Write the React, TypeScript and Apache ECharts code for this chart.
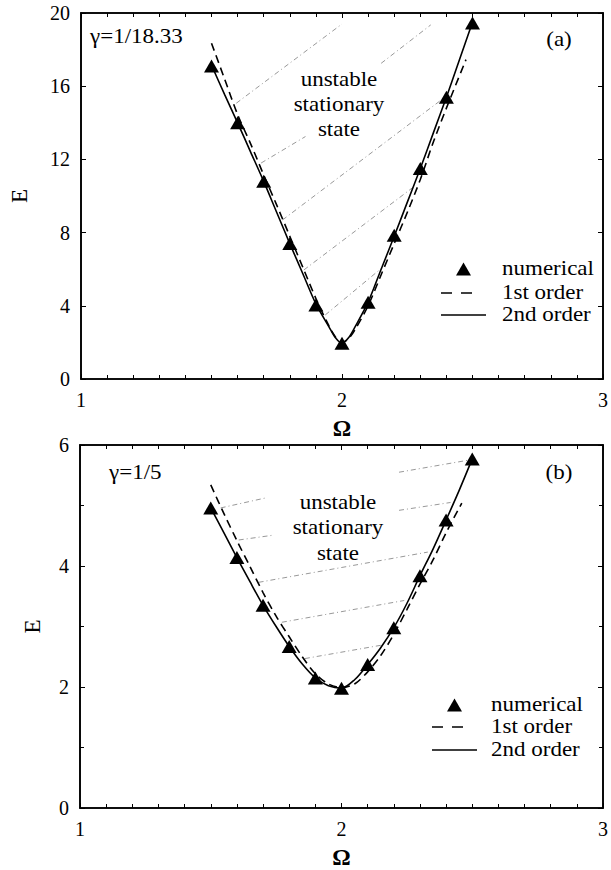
import React, { useEffect, useRef } from "react";
import * as echarts from "echarts";

// ---------- Panel (a): gamma = 1/18.33 ----------
const numOmegaA = [1.5, 1.6, 1.7, 1.8, 1.9, 2.0, 2.1, 2.2, 2.3, 2.4, 2.5];
const numEA = [17.1, 14.0, 10.8, 7.4, 4.05, 1.95, 4.2, 7.85, 11.5, 15.4, 19.45];

const firstOmegaA = [1.5, 1.55, 1.6, 1.65, 1.7, 1.75, 1.8, 1.85, 1.9, 1.95, 1.975, 2.0, 2.025, 2.05, 2.1, 2.15, 2.2, 2.25, 2.3, 2.35, 2.4, 2.475];
const firstEA = [18.35, 16.4, 14.45, 12.85, 11.15, 9.5, 7.8, 6.1, 4.4, 2.9, 2.3, 2.0, 2.2, 2.7, 4.0, 5.7, 7.4, 9.1, 10.9, 12.95, 14.8, 17.45];

const secondOmegaA = [1.5, 1.55, 1.6, 1.65, 1.7, 1.75, 1.8, 1.85, 1.9, 1.95, 1.975, 2.0, 2.025, 2.05, 2.1, 2.15, 2.2, 2.25, 2.3, 2.35, 2.4, 2.45, 2.5];
const secondEA = [17.15, 15.55, 14.0, 12.4, 10.8, 9.1, 7.4, 5.75, 4.1, 2.85, 2.25, 1.95, 2.25, 2.85, 4.2, 6.0, 7.8, 9.65, 11.5, 13.45, 15.4, 17.45, 19.5];

// hatch segments of the unstable region: [Ω0, E0, Ω1, E1]
const hatchA = [
  [1.595, 15.07, 2.0, 19.4],
  [1.69, 11.8, 1.86, 13.25],
  [2.15, 17.25, 2.34, 19.35],
  [1.772, 8.69, 2.385, 15.3],
  [1.854, 5.96, 2.27, 10.45],
  [1.936, 3.5, 2.151, 6.05],
];

// ---------- Panel (b): gamma = 1/5 ----------
const numOmegaB = [1.5, 1.6, 1.7, 1.8, 1.9, 2.0, 2.1, 2.2, 2.3, 2.4, 2.5];
const numEB = [4.96, 4.14, 3.35, 2.67, 2.15, 1.98, 2.37, 2.98, 3.84, 4.76, 5.77];

const firstOmegaB = [1.5, 1.55, 1.6, 1.65, 1.7, 1.75, 1.8, 1.85, 1.9, 1.95, 2.0, 2.05, 2.1, 2.15, 2.2, 2.25, 2.3, 2.35, 2.4, 2.46];
const firstEB = [5.34, 4.87, 4.42, 3.99, 3.56, 3.17, 2.83, 2.5, 2.22, 2.05, 1.99, 2.05, 2.25, 2.52, 2.87, 3.28, 3.7, 4.1, 4.55, 5.04];

const secondOmegaB = [1.5, 1.55, 1.6, 1.65, 1.7, 1.75, 1.8, 1.85, 1.9, 1.95, 2.0, 2.05, 2.1, 2.15, 2.2, 2.25, 2.3, 2.35, 2.4, 2.45, 2.5];
const secondEB = [4.96, 4.55, 4.14, 3.74, 3.35, 3.0, 2.67, 2.38, 2.15, 2.02, 1.98, 2.12, 2.37, 2.65, 2.98, 3.38, 3.84, 4.28, 4.76, 5.25, 5.77];

const hatchB = [
  [1.538, 4.96, 1.715, 5.13],
  [2.22, 5.55, 2.486, 5.75],
  [1.607, 4.43, 1.74, 4.51],
  [2.22, 4.92, 2.417, 5.05],
  [1.683, 3.73, 2.33, 4.23],
  [1.772, 3.07, 2.24, 3.43],
  [1.86, 2.47, 2.151, 2.69],
];

const xTicks = [1, 2, 3];
const yTicksA = [0, 4, 8, 12, 16, 20];
const yTicksB = [0, 2, 4, 6];

const legendLabels = ["numerical", "1st order", "2nd order"];
const gammaLabels = ["γ=1/18.33", "γ=1/5"];
const panelLabels = ["(a)", "(b)"];
const regionLabel = "unstable\nstationary\nstate";

const SERIF = "Liberation Serif, Times New Roman, serif";

const zip = (xs: number[], ys: number[]) => xs.map((x, i) => [x, ys[i]]);

function axesFor(grid: number, yTicks: number[], yMinorSplit: number) {
  const yMax = yTicks[yTicks.length - 1];
  const yInterval = yTicks[1] - yTicks[0];
  const common = {
    gridIndex: grid,
    type: "value" as const,
    splitLine: { show: false },
    axisLine: { show: true, onZero: false, lineStyle: { color: "#000", width: 1.6 } },
    axisTick: { show: true, inside: true, length: 5, lineStyle: { color: "#000", width: 1 } },
  };
  const xBase = {
    ...common,
    min: xTicks[0],
    max: xTicks[xTicks.length - 1],
    interval: 1,
    minorTick: { show: true, splitNumber: 10, length: 4, lineStyle: { color: "#000", width: 1 } },
  };
  const yBase = {
    ...common,
    min: 0,
    max: yMax,
    interval: yInterval,
    minorTick: { show: yMinorSplit > 1, splitNumber: yMinorSplit, length: 4, lineStyle: { color: "#000", width: 1 } },
  };
  const xAxes = [
    {
      ...xBase,
      position: "bottom",
      axisLabel: { show: true, color: "#000", fontFamily: SERIF, fontSize: 20, margin: 11 },
      name: "Ω",
      nameLocation: "middle",
      nameGap: 38,
      nameTextStyle: { color: "#000", fontFamily: SERIF, fontSize: 23, fontWeight: "bold" },
    },
    { ...xBase, position: "top", axisLabel: { show: false } },
  ];
  const yAxes = [
    {
      ...yBase,
      position: "left",
      axisLabel: { show: true, color: "#000", fontFamily: SERIF, fontSize: 20, margin: 11 },
      name: "E",
      nameLocation: "middle",
      nameGap: yMax >= 10 ? 50 : 36,
      nameTextStyle: { color: "#000", fontFamily: SERIF, fontSize: 23 },
    },
    { ...yBase, position: "right", axisLabel: { show: false } },
  ];
  return { xAxes, yAxes };
}

function seriesFor(
  grid: number,
  numO: number[],
  numE: number[],
  firstO: number[],
  firstE: number[],
  secondO: number[],
  secondE: number[],
  hatch: number[][]
) {
  const xi = grid * 2;
  const yi = grid * 2;
  const hatchSeries = hatch.map((h, k) => ({
    type: "line",
    name: `hatch-${grid}-${k}`,
    xAxisIndex: xi,
    yAxisIndex: yi,
    data: [
      [h[0], h[1]],
      [h[2], h[3]],
    ],
    symbol: "none",
    silent: true,
    z: 1,
    lineStyle: { color: "#8c8c8c", width: 0.9, type: [5, 3, 1, 3] },
  }));
  return [
    ...hatchSeries,
    {
      type: "line",
      name: legendLabels[1],
      xAxisIndex: xi,
      yAxisIndex: yi,
      data: zip(firstO, firstE),
      symbol: "none",
      smooth: 0.3,
      z: 3,
      lineStyle: { color: "#000", width: 1.6, type: [8, 5] },
    },
    {
      type: "line",
      name: legendLabels[2],
      xAxisIndex: xi,
      yAxisIndex: yi,
      data: zip(secondO, secondE),
      symbol: "none",
      smooth: 0.3,
      z: 4,
      lineStyle: { color: "#000", width: 1.6 },
    },
    {
      type: "scatter",
      name: legendLabels[0],
      xAxisIndex: xi,
      yAxisIndex: yi,
      data: zip(numO, numE),
      symbol: "triangle",
      symbolSize: [15, 13],
      z: 5,
      itemStyle: { color: "#000", opacity: 1 },
    },
  ];
}

const SX = 1.15; // the reference lettering is slightly wide

function textEl(text: string, x: number, y: number, align: string, size = 20, lineHeight?: number) {
  return {
    type: "text",
    x,
    y,
    scaleX: SX,
    z: 10,
    style: {
      text,
      font: `${size}px ${SERIF}`,
      fill: "#000",
      align,
      verticalAlign: "middle",
      lineHeight: lineHeight ?? size,
    },
  };
}

function legendEls(lineX: number, textX: number, ys: number[]) {
  const cx = lineX + 22.5;
  return [
    {
      type: "polygon",
      z: 10,
      shape: {
        points: [
          [cx - 7.5, ys[0] + 6.5],
          [cx + 7.5, ys[0] + 6.5],
          [cx, ys[0] - 6.5],
        ],
      },
      style: { fill: "#000" },
    },
    {
      type: "line",
      z: 10,
      shape: { x1: lineX, y1: ys[1], x2: lineX + 32, y2: ys[1] },
      style: { stroke: "#000", lineWidth: 1.6, lineDash: [11, 9] },
    },
    {
      type: "line",
      z: 10,
      shape: { x1: lineX, y1: ys[2], x2: lineX + 45, y2: ys[2] },
      style: { stroke: "#000", lineWidth: 1.6 },
    },
    ...legendLabels.map((t, i) => textEl(t, textX, ys[i], "left")),
  ];
}

export default function App() {
  const ref = useRef<HTMLDivElement>(null);

  useEffect(() => {
    if (!ref.current) return;
    const chart = echarts.init(ref.current, null, { renderer: "svg" });
    const a = axesFor(0, yTicksA, 1);
    const b = axesFor(1, yTicksB, 2);
    const option = {
      animation: false,
      backgroundColor: "#fff",
      grid: [
        { left: 80, top: 13, width: 527, height: 366, show: true, borderColor: "#000", borderWidth: 1.6, containLabel: false },
        { left: 80, top: 445, width: 527, height: 366, show: true, borderColor: "#000", borderWidth: 1.6, containLabel: false },
      ],
      xAxis: [...a.xAxes, ...b.xAxes].map((ax, i) => ({ ...ax, gridIndex: i < 2 ? 0 : 1 })),
      yAxis: [...a.yAxes, ...b.yAxes].map((ax, i) => ({ ...ax, gridIndex: i < 2 ? 0 : 1 })),
      graphic: [
        textEl(gammaLabels[0], 90, 37, "left"),
        textEl(panelLabels[0], 559, 40, "center"),
        textEl(regionLabel, 339, 105, "center", 20, 25),
        ...legendEls(441, 502, [269, 293, 315]),
        textEl(gammaLabels[1], 109, 473, "left"),
        textEl(panelLabels[1], 559, 473, "center"),
        textEl(regionLabel, 338, 528, "center", 20, 25.5),
        ...legendEls(432, 491, [705, 727, 750]),
      ],
      series: [
        ...seriesFor(0, numOmegaA, numEA, firstOmegaA, firstEA, secondOmegaA, secondEA, hatchA),
        ...seriesFor(1, numOmegaB, numEB, firstOmegaB, firstEB, secondOmegaB, secondEB, hatchB),
      ],
    };
    chart.setOption(option as any);
    return () => chart.dispose();
  }, []);

  return (
    <div
      ref={ref}
      style={{ position: "absolute", left: 0, top: 0, width: 611, height: 870, background: "#fff" }}
    />
  );
}
